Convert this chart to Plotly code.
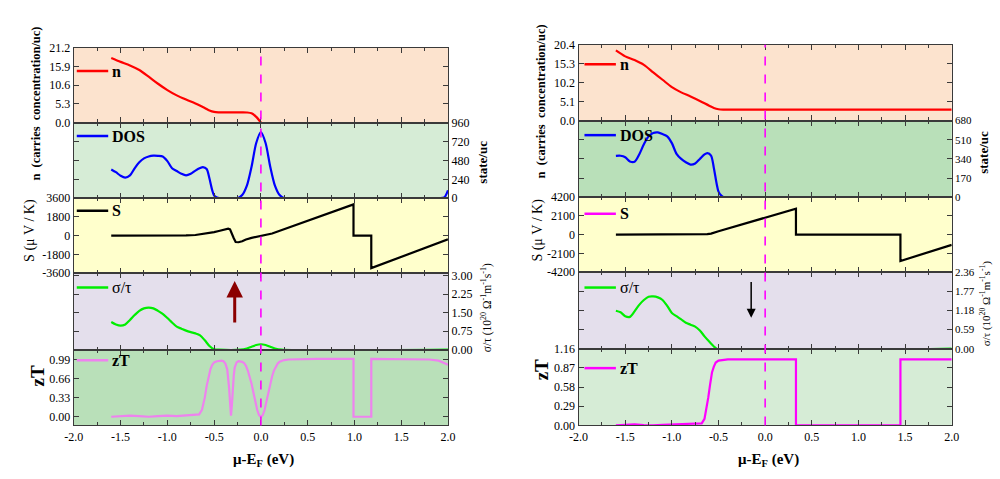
import plotly.graph_objects as go

# ---------------- DATA ----------------
# Left chart
n_x_L = [-1.6, -1.5, -1.4, -1.3, -1.2, -1.1, -1.0, -0.9, -0.8, -0.7, -0.6, -0.55, -0.5, -0.45, -0.4, -0.3, -0.2, -0.15, -0.1, -0.05, 0.0]
n_y_L = [18.3, 17.2, 16.2, 14.9, 13.0, 11.0, 9.2, 7.7, 6.5, 5.4, 4.1, 3.4, 3.0, 2.9, 2.9, 2.9, 2.9, 2.85, 2.6, 1.6, 0.0]

dos_x_L = [-1.6, -1.55, -1.5, -1.45, -1.4, -1.35, -1.3, -1.25, -1.2, -1.15, -1.1, -1.05, -1.0, -0.95, -0.9, -0.85, -0.8, -0.75, -0.7, -0.65, -0.62, -0.58, -0.55, -0.52, -0.5, -0.47, -0.44, -0.3, -0.25, -0.2, -0.15, -0.1, -0.05, 0.0, 0.05, 0.1, 0.15, 0.2, 0.25, 1.0, 1.9, 1.96, 2.0]
dos_y_L = [365, 330, 285, 262, 290, 380, 455, 505, 530, 540, 538, 528, 470, 380, 345, 310, 290, 310, 350, 382, 395, 370, 250, 100, 35, 8, 0, 0, 0, 40, 160, 400, 700, 840, 700, 400, 160, 40, 0, 0, 0, 10, 100]

s_x_L = [-1.6, -1.4, -1.2, -1.0, -0.8, -0.7, -0.6, -0.55, -0.5, -0.45, -0.4, -0.37, -0.35, -0.33, -0.31, -0.29, -0.27, -0.24, -0.2, -0.16, -0.1, -0.05, 0.0, 0.05, 0.1, 0.12, 0.99, 0.99, 1.18, 1.18, 2.0]
s_y_L = [0, -10, 0, 10, 30, 60, 170, 250, 330, 440, 580, 660, 680, 600, 250, -250, -620, -640, -540, -380, -220, -112, -50, 30, 140, 200, 3010, 0, 0, -3130, -360]

sig_x_L = [-1.6, -1.55, -1.5, -1.45, -1.4, -1.35, -1.3, -1.25, -1.2, -1.15, -1.1, -1.05, -1.0, -0.95, -0.9, -0.85, -0.8, -0.75, -0.7, -0.65, -0.6, -0.55, -0.5, -0.45, -0.22, -0.15, -0.1, -0.05, 0.0, 0.05, 0.1, 0.15, 0.22, 2.0]
sig_y_L = [1.12, 1.02, 0.97, 1.02, 1.2, 1.4, 1.57, 1.67, 1.70, 1.67, 1.57, 1.45, 1.28, 1.1, 0.93, 0.85, 0.77, 0.71, 0.66, 0.58, 0.38, 0.15, 0.02, 0.0, 0.0, 0.05, 0.12, 0.19, 0.22, 0.19, 0.12, 0.05, 0.0, 0.0]

zt_x_L = [-1.6, -1.5, -1.4, -1.3, -1.2, -1.1, -1.0, -0.9, -0.8, -0.7, -0.66, -0.63, -0.6, -0.58, -0.56, -0.54, -0.52, -0.5, -0.47, -0.44, -0.42, -0.4, -0.38, -0.36, -0.35, -0.34, -0.33, -0.32, -0.31, -0.3, -0.29, -0.28, -0.26, -0.24, -0.22, -0.2, -0.18, -0.16, -0.14, -0.12, -0.1, -0.08, -0.06, -0.04, -0.02, 0.0, 0.02, 0.04, 0.06, 0.08, 0.1, 0.12, 0.14, 0.16, 0.18, 0.2, 0.25, 0.3, 0.4, 0.6, 0.8, 0.99, 0.99, 1.18, 1.18, 1.5, 1.8, 1.9, 1.95, 2.0]
zt_y_L = [0.0, 0.01, 0.02, 0.01, 0.0, 0.01, 0.02, 0.01, 0.02, 0.03, 0.04, 0.12, 0.33, 0.53, 0.7, 0.82, 0.9, 0.94, 0.96, 0.97, 0.97, 0.96, 0.92, 0.82, 0.7, 0.5, 0.25, 0.02, 0.2, 0.5, 0.72, 0.85, 0.94, 0.96, 0.96, 0.95, 0.93, 0.88, 0.8, 0.7, 0.57, 0.42, 0.26, 0.12, 0.03, 0.0, 0.03, 0.12, 0.27, 0.42, 0.56, 0.7, 0.8, 0.87, 0.92, 0.95, 0.98, 0.99, 0.995, 1.0, 1.0, 1.0, 0.0, 0.0, 1.0, 1.0, 0.99, 0.97, 0.94, 0.9]

# Right chart
n_x_R = [-1.6, -1.5, -1.4, -1.3, -1.2, -1.1, -1.0, -0.9, -0.8, -0.7, -0.6, -0.55, -0.5, -0.45, -0.4, 0.0, 1.0, 2.0]
n_y_R = [18.9, 17.3, 16.3, 15.0, 13.0, 11.0, 9.0, 7.6, 6.5, 5.3, 4.0, 3.4, 3.05, 2.95, 2.95, 2.95, 2.95, 2.95]

dos_x_R = [-1.6, -1.55, -1.5, -1.45, -1.4, -1.35, -1.3, -1.25, -1.2, -1.15, -1.1, -1.05, -1.0, -0.95, -0.9, -0.85, -0.8, -0.75, -0.7, -0.65, -0.62, -0.58, -0.55, -0.52, -0.5, -0.47, -0.44, 0.0, 2.0]
dos_y_R = [367, 368, 355, 318, 315, 380, 470, 540, 570, 575, 560, 540, 480, 385, 340, 310, 290, 300, 340, 380, 392, 370, 260, 120, 50, 15, 0, 0, 0]

s_x_R = [-1.6, -1.2, -0.8, -0.7, -0.62, -0.58, -0.55, -0.5, 0.33, 0.33, 1.45, 1.45, 2.0]
s_y_R = [0, 0, 20, 30, 60, 120, 230, 380, 2920, 0, 0, -2960, -1150]

sig_x_R = [-1.6, -1.55, -1.5, -1.45, -1.4, -1.35, -1.3, -1.25, -1.2, -1.15, -1.1, -1.05, -1.0, -0.95, -0.9, -0.85, -0.8, -0.75, -0.7, -0.65, -0.6, -0.55, -0.52, 2.0]
sig_y_R = [1.17, 1.12, 1.0, 0.98, 1.15, 1.35, 1.5, 1.6, 1.61, 1.58, 1.5, 1.32, 1.1, 1.0, 0.9, 0.8, 0.74, 0.68, 0.56, 0.38, 0.22, 0.07, 0.0, 0.0]

zt_x_R = [-1.6, -1.5, -1.4, -1.3, -1.2, -1.1, -1.0, -0.9, -0.8, -0.72, -0.68, -0.65, -0.63, -0.61, -0.59, -0.57, -0.55, -0.53, -0.5, -0.45, -0.4, -0.3, 0.0, 0.33, 0.33, 1.45, 1.45, 2.0]
zt_y_R = [0.0, 0.005, 0.015, 0.005, 0.0, 0.01, 0.015, 0.01, 0.015, 0.02, 0.03, 0.1, 0.24, 0.42, 0.62, 0.8, 0.89, 0.95, 0.98, 0.995, 1.0, 1.0, 1.0, 1.0, 0.0, 0.0, 1.0, 1.0]

# Tick values
x_ticks = [-2.0, -1.5, -1.0, -0.5, 0.0, 0.5, 1.0, 1.5, 2.0]
n_ticks_L = [0.0, 5.3, 10.6, 15.9, 21.2]
dos_ticks_L = [0, 240, 480, 720, 960]
s_ticks_L = [-3600, -1800, 0, 1800, 3600]
sig_ticks_L = [0.00, 0.75, 1.50, 2.25, 3.00]
zt_ticks_L = [0.00, 0.33, 0.66, 0.99]
n_ticks_R = [0.0, 5.1, 10.2, 15.3, 20.4]
dos_ticks_R = [0, 170, 340, 510, 680]
s_ticks_R = [-4200, -2100, 0, 2100, 4200]
sig_ticks_R = [0.00, 0.59, 1.18, 1.77, 2.36]
zt_ticks_R = [0.00, 0.29, 0.58, 0.87, 1.16]

# ---------------- FIGURE ----------------
W, H = 1000, 479
SERIF = "Liberation Serif"


def fx(px):
    return px / W


def fy(py):
    return 1 - py / H


fig = go.Figure()

L_X = [65, 446]
R_X = [579, 959]
L_Y = [42, 119, 197, 274, 353, 431]
R_Y = [39, 117, 196, 273, 352, 431]

series_L = [
    (n_x_L, n_y_L, "#FF0000", "spline"),
    (dos_x_L, dos_y_L, "#0000FF", "spline"),
    (s_x_L, s_y_L, "#000000", "linear"),
    (sig_x_L, sig_y_L, "#00EE00", "spline"),
    (zt_x_L, zt_y_L, "#EE82EE", "linear"),
]
series_R = [
    (n_x_R, n_y_R, "#FF0000", "spline"),
    (dos_x_R, dos_y_R, "#0000FF", "spline"),
    (s_x_R, s_y_R, "#000000", "linear"),
    (sig_x_R, sig_y_R, "#00EE00", "spline"),
    (zt_x_R, zt_y_R, "#FF00FF", "linear"),
]

for i, (xs, ys, col, shp) in enumerate(series_L + series_R):
    k = i + 1
    fig.add_trace(go.Scatter(
        x=xs, y=ys, mode="lines",
        line=dict(color=col, width=2.2, shape=shp, smoothing=0.8 if shp == "spline" else None),
        xaxis="x" if k == 1 else f"x{k}", yaxis="y" if k == 1 else f"y{k}",
        showlegend=False, hoverinfo="skip"))

tick_sets_L = [
    (n_ticks_L, [0, 21.2], "left", ".1f"),
    (dos_ticks_L, [0, 960], "right", "d"),
    (s_ticks_L, [-3600, 3600], "left", "d"),
    (sig_ticks_L, [0, 3.1], "right", ".2f"),
    (zt_ticks_L, [-0.15, 1.16], "left", ".2f"),
]
tick_sets_R = [
    (n_ticks_R, [0, 20.4], "left", ".1f"),
    (dos_ticks_R, [0, 680], "right", "d"),
    (s_ticks_R, [-4200, 4200], "left", "d"),
    (sig_ticks_R, [0, 2.36], "right", ".2f"),
    (zt_ticks_R, [0, 1.16], "left", ".2f"),
]

bg_L = ["#FCE3CE", "#D6ECD6", "#FFFFCC", "#E4DFEC", "#B9E0B9"]
bg_R = ["#FCE3CE", "#B9E0B9", "#FFFFCC", "#E4DFEC", "#D6ECD6"]

tickfont = dict(family=SERIF, size=12, color="black")
tickfont_small = dict(family=SERIF, size=11, color="black")
layout = {}
shapes = []
for col_i, (XS, YS, ticks, bgs) in enumerate([(L_X, L_Y, tick_sets_L, bg_L), (R_X, R_Y, tick_sets_R, bg_R)]):
    for p in range(5):
        k = col_i * 5 + p + 1
        xname = "xaxis" if k == 1 else f"xaxis{k}"
        yname = "yaxis" if k == 1 else f"yaxis{k}"
        tv, rng, side, fmt = ticks[p]
        layout[xname] = dict(
            domain=[fx(XS[0]), fx(XS[1])], range=[-2, 2],
            anchor="y" if k == 1 else f"y{k}",
            showline=True, linecolor="#3a3a3a", linewidth=1.3, mirror="ticks",
            ticks="inside", ticklen=5, tickwidth=1.2, tickcolor="#3a3a3a",
            tickvals=x_ticks, ticktext=[f"{v:.1f}" for v in x_ticks],
            showticklabels=(p == 4), tickfont=tickfont,
            minor=dict(ticks="inside", tickvals=[v + 0.25 for v in x_ticks[:-1]], ticklen=3, tickcolor="#3a3a3a"),
            showgrid=False, zeroline=False, fixedrange=True)
        if fmt == "d":
            ttext = [f"{int(v)}" for v in tv]
        else:
            ttext = [format(v, fmt) for v in tv]
        tf = tickfont_small if (col_i == 1 and side == "right") else tickfont
        layout[yname] = dict(
            domain=[fy(YS[p + 1]), fy(YS[p])], range=rng,
            anchor="x" if k == 1 else f"x{k}", side=side,
            showline=True, linecolor="#3a3a3a", linewidth=1.3, mirror="ticks",
            ticks="inside", ticklen=5, tickwidth=1.2, tickcolor="#3a3a3a",
            tickvals=tv, ticktext=ttext, tickfont=tf,
            showgrid=False, zeroline=False, fixedrange=True)
        shapes.append(dict(type="rect", xref=("x" if k == 1 else f"x{k}") + " domain",
                           yref=("y" if k == 1 else f"y{k}") + " domain",
                           x0=0, x1=1, y0=0, y1=1, fillcolor=bgs[p], line=dict(width=0), layer="below"))
    # dashed Fermi line
    xr = "x5" if col_i == 0 else "x10"
    shapes.append(dict(type="line", xref=xr, yref="paper", x0=0, x1=0,
                       y0=fy(YS[5]), y1=fy(YS[0]),
                       line=dict(color="#FF00FF", width=1.6, dash="dash"), layer="above"))

# Legend samples
legend_L = [("<b>n</b>", "#FF0000", 66), ("<b>DOS</b>", "#0000FF", 133), ("<b>S</b>", "#000000", 210),
            ("σ/τ", "#00EE00", 289), ("<b>zT</b>", "#EE82EE", 364)]
legend_R = [("<b>n</b>", "#FF0000", 59), ("<b>DOS</b>", "#0000FF", 132), ("<b>S</b>", "#FF00FF", 213),
            ("σ/τ", "#00EE00", 289), ("<b>zT</b>", "#FF00FF", 372)]
annotations = []
for x0, leg in [(68, legend_L), (585, legend_R)]:
    for txt, col, yy in leg:
        shapes.append(dict(type="line", xref="paper", yref="paper", x0=fx(x0), x1=fx(x0 + 32),
                           y0=fy(yy), y1=fy(yy), line=dict(color=col, width=2.5)))
        annotations.append(dict(xref="paper", yref="paper", x=fx(x0 + 34), y=fy(yy), text=txt,
                                showarrow=False, xanchor="left", yanchor="middle",
                                font=dict(family=SERIF, size=16, color="black")))


def vtext(x, y, text, size, bold=False):
    t = f"<b>{text}</b>" if bold else text
    annotations.append(dict(xref="paper", yref="paper", x=fx(x), y=fy(y), text=t, textangle=-90,
                            showarrow=False, xanchor="center", yanchor="middle",
                            font=dict(family=SERIF, size=size, color="black")))


# Axis titles (left chart)
vtext(27, 100, "n  (carries  concentration/uc)", 12.5, True)
vtext(21, 230, "S (μ V / K)", 14)
vtext(28, 380, "zT", 19, True)
vtext(481, 160, "state/uc", 13, True)
vtext(486, 310, "σ/τ (10<sup>20</sup> Ω<sup>-1</sup>m<sup>-1</sup>s<sup>-1</sup>)", 11.5)
# Axis titles (right chart)
vtext(541, 97, "n  (carries  concentration/uc)", 12.5, True)
vtext(538, 230, "S (μ V / K)", 14)
vtext(541, 374, "zT", 19, True)
vtext(991, 150, "state/uc", 13, True)
vtext(993, 305, "σ/τ (10<sup>20</sup> Ω<sup>-1</sup>m<sup>-1</sup>s<sup>-1</sup>)", 11)

for cx in [(L_X[0] + L_X[1]) / 2, (R_X[0] + R_X[1]) / 2]:
    annotations.append(dict(xref="paper", yref="paper", x=fx(cx + 3), y=fy(467), text="<b>μ-E<sub>F</sub> (eV)</b>",
                            showarrow=False, xanchor="center", yanchor="middle",
                            font=dict(family=SERIF, size=15, color="black")))

# Arrows
annotations.append(dict(xref="x4", yref="y4", axref="x4", ayref="y4", x=-0.28, y=2.78, ax=-0.28, ay=1.04,
                        text="", showarrow=True, arrowhead=2, arrowsize=1.1, arrowwidth=3, arrowcolor="#8B0000"))
annotations.append(dict(xref="x9", yref="y9", axref="x9", ayref="y9", x=-0.15, y=0.95, ax=-0.15, ay=2.1,
                        text="", showarrow=True, arrowhead=2, arrowsize=1.2, arrowwidth=1.5, arrowcolor="#000000"))

fig.update_layout(
    width=W, height=H, margin=dict(l=0, r=0, t=0, b=0),
    paper_bgcolor="white", plot_bgcolor="white",
    shapes=shapes, annotations=annotations, showlegend=False,
    **layout)

fig.write_html("out.html", config={"displayModeBar": False})
